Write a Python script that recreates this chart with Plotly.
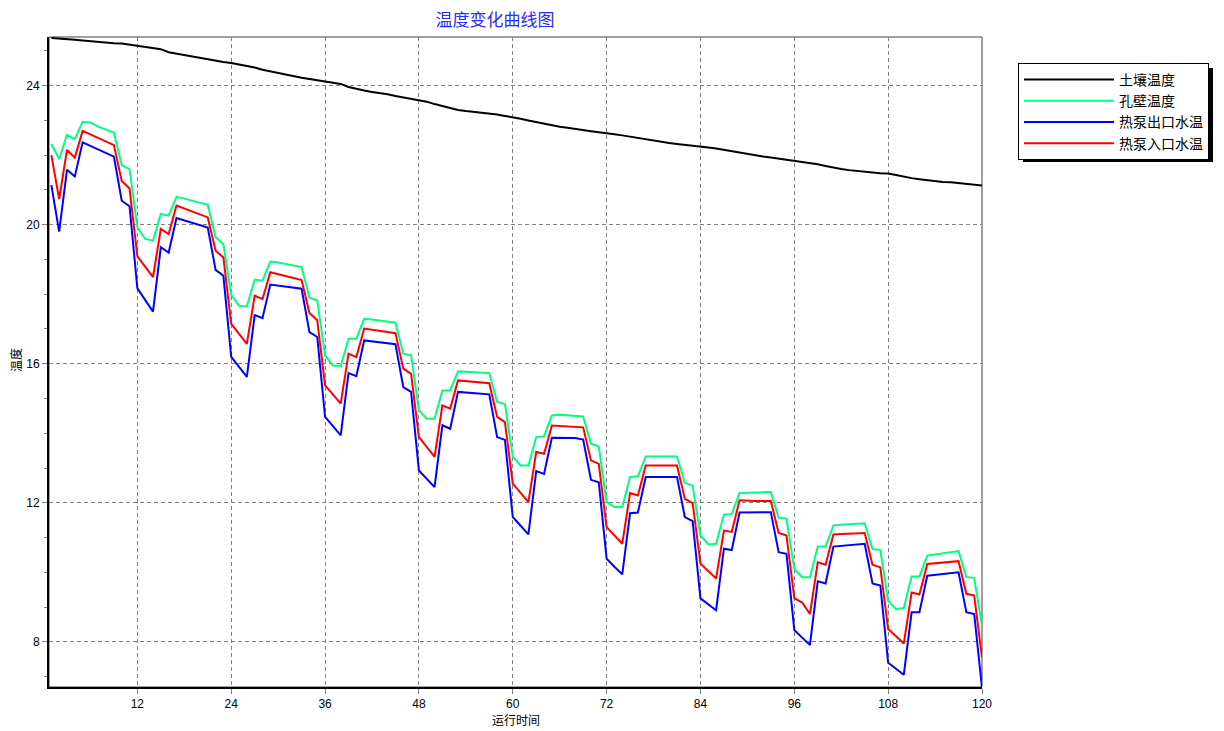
import plotly.graph_objects as go

months = list(range(1, 121))

soil_temp = [
    25.37, 25.36, 25.34, 25.32, 25.30, 25.28, 25.24, 25.23, 25.22, 25.21, 25.18, 25.15,
    25.12, 25.09, 25.05, 24.96, 24.92, 24.86, 24.83, 24.79, 24.75, 24.72, 24.68, 24.65,
    24.61, 24.57, 24.52, 24.46, 24.41, 24.36, 24.31, 24.27, 24.23, 24.19, 24.15, 24.12,
    24.09, 24.05, 23.96, 23.90, 23.86, 23.82, 23.79, 23.75, 23.70, 23.66, 23.63, 23.60,
    23.54, 23.47, 23.41, 23.36, 23.30, 23.27, 23.25, 23.23, 23.21, 23.17, 23.13, 23.10,
    23.05, 23.00, 22.95, 22.91, 22.86, 22.82, 22.79, 22.75, 22.72, 22.69, 22.66, 22.64,
    22.60, 22.57, 22.53, 22.49, 22.46, 22.42, 22.38, 22.35, 22.32, 22.30, 22.28, 22.26,
    22.22, 22.19, 22.15, 22.11, 22.06, 22.02, 21.99, 21.96, 21.93, 21.90, 21.87, 21.85,
    21.81, 21.78, 21.74, 21.69, 21.64, 21.60, 21.57, 21.54, 21.51, 21.50, 21.48, 21.47,
    21.43, 21.38, 21.34, 21.31, 21.28, 21.25, 21.23, 21.22, 21.20, 21.18, 21.15, 21.13,
]

wall_temp = [
    22.32, 21.89, 22.58, 22.46, 22.96, 22.94, 22.82, 22.74, 22.65, 21.71, 21.60, 19.92,
    19.59, 19.54, 20.31, 20.26, 20.80, 20.75, 20.69, 20.63, 20.57, 19.64, 19.44, 17.98,
    17.67, 17.65, 18.42, 18.39, 18.94, 18.91, 18.87, 18.82, 18.78, 17.90, 17.82, 16.24,
    15.95, 15.93, 16.72, 16.72, 17.29, 17.27, 17.24, 17.21, 17.18, 16.29, 16.24, 14.66,
    14.42, 14.42, 15.23, 15.23, 15.78, 15.77, 15.76, 15.75, 15.73, 14.90, 14.84, 13.33,
    13.07, 13.07, 13.89, 13.91, 14.51, 14.53, 14.52, 14.50, 14.48, 13.70, 13.62, 12.02,
    11.88, 11.88, 12.74, 12.76, 13.33, 13.33, 13.33, 13.33, 13.33, 12.57, 12.50, 11.06,
    10.80, 10.82, 11.66, 11.68, 12.28, 12.29, 12.30, 12.30, 12.31, 11.57, 11.54, 10.10,
    9.86, 9.86, 10.74, 10.74, 11.35, 11.37, 11.38, 11.40, 11.41, 10.67, 10.64, 9.18,
    8.94, 8.97, 9.88, 9.88, 10.48, 10.51, 10.55, 10.58, 10.61, 9.86, 9.84, 8.46,
]

outlet_temp = [
    21.14, 19.80, 21.58, 21.39, 22.37, 22.27, 22.17, 22.06, 21.96, 20.69, 20.53, 18.17,
    17.84, 17.50, 19.35, 19.20, 20.19, 20.12, 20.06, 19.99, 19.92, 18.70, 18.53, 16.20,
    15.90, 15.62, 17.40, 17.31, 18.28, 18.25, 18.22, 18.19, 18.16, 16.91, 16.77, 14.47,
    14.20, 13.94, 15.73, 15.64, 16.67, 16.64, 16.62, 16.59, 16.56, 15.33, 15.19, 12.93,
    12.69, 12.45, 14.23, 14.13, 15.19, 15.17, 15.16, 15.14, 15.12, 13.89, 13.81, 11.59,
    11.34, 11.09, 12.91, 12.83, 13.87, 13.87, 13.87, 13.86, 13.82, 12.66, 12.59, 10.39,
    10.16, 9.94, 11.70, 11.72, 12.74, 12.74, 12.74, 12.74, 12.74, 11.59, 11.47, 9.25,
    9.08, 8.91, 10.68, 10.64, 11.72, 11.73, 11.73, 11.73, 11.73, 10.58, 10.53, 8.34,
    8.12, 7.91, 9.74, 9.68, 10.74, 10.76, 10.78, 10.80, 10.82, 9.68, 9.62, 7.40,
    7.22, 7.05, 8.85, 8.85, 9.90, 9.93, 9.95, 9.98, 10.00, 8.85, 8.80, 6.68,
]

inlet_temp = [
    22.00, 20.74, 22.15, 21.93, 22.70, 22.60, 22.50, 22.39, 22.29, 21.26, 21.04, 19.09,
    18.79, 18.49, 19.88, 19.73, 20.55, 20.47, 20.38, 20.30, 20.21, 19.25, 19.06, 17.15,
    16.86, 16.57, 17.96, 17.86, 18.63, 18.58, 18.52, 18.47, 18.41, 17.46, 17.25, 15.38,
    15.11, 14.85, 16.29, 16.19, 17.01, 16.98, 16.94, 16.91, 16.88, 15.86, 15.71, 13.89,
    13.60, 13.32, 14.80, 14.71, 15.52, 15.50, 15.48, 15.46, 15.44, 14.47, 14.32, 12.55,
    12.28, 12.02, 13.46, 13.41, 14.22, 14.21, 14.20, 14.19, 14.17, 13.22, 13.12, 11.30,
    11.06, 10.82, 12.28, 12.21, 13.07, 13.07, 13.07, 13.07, 13.07, 12.11, 11.99, 10.25,
    10.03, 9.82, 11.20, 11.16, 12.07, 12.05, 12.05, 12.05, 12.05, 11.13, 11.06, 9.26,
    9.13, 8.80, 10.29, 10.22, 11.09, 11.10, 11.11, 11.12, 11.13, 10.22, 10.14, 8.37,
    8.16, 7.95, 9.42, 9.36, 10.24, 10.26, 10.28, 10.30, 10.32, 9.38, 9.33, 7.55,
]

series_names = ["土壤温度", "孔壁温度", "热泵出口水温", "热泵入口水温"]
series_colors = ["#000000", "#00ff7f", "#0000ff", "#ff0000"]
series_values = [soil_temp, wall_temp, outlet_temp, inlet_temp]

x_ticks = [12, 24, 36, 48, 60, 72, 84, 96, 108, 120]
y_ticks = [8, 12, 16, 20, 24]

title_text = "温度变化曲线图"
x_title = "运行时间"
y_title = "温度"

fig = go.Figure()
for name, color, vals in zip(series_names, series_colors, series_values):
    fig.add_trace(go.Scatter(
        x=months, y=vals, mode="lines", name=name,
        line=dict(color=color, width=2),
    ))

L, R, T, B = 49, 242, 37, 44
W, H = 1224, 731
pw, ph = W - L - R, H - T - B

def px_x(p):
    return (p - L) / pw

def px_y(p):
    return (H - B - p) / ph

axis_font = dict(family="Liberation Sans, Arial, sans-serif", size=12, color="#000000")
cjk = "Noto Sans CJK SC, sans-serif"

# legend box (approx. rendered extent) for the drop shadow
leg_l, leg_t, leg_r, leg_b = 1018, 63, 1208, 157

fig.update_layout(
    width=W, height=H,
    margin=dict(l=L, r=R, t=T, b=B, pad=0),
    paper_bgcolor="#ffffff",
    plot_bgcolor="#ffffff",
    showlegend=True,
    legend=dict(
        x=px_x(leg_l), y=px_y(leg_t), xanchor="left", yanchor="top",
        bgcolor="#ffffff", bordercolor="#000000", borderwidth=1,
        font=dict(family=cjk, size=14, color="#000000"),
        itemwidth=90, tracegroupgap=0, itemclick=False,
    ),
    title=dict(
        text=title_text, x=495 / W, xref="container", xanchor="center",
        y=1 - 20 / H, yref="container", yanchor="middle",
        font=dict(family=cjk, size=17, color="#2a2aff"),
    ),
    xaxis=dict(
        range=[0.7, 120], tickmode="array", tickvals=x_ticks,
        ticktext=[str(v) for v in x_ticks],
        showgrid=True, gridcolor="#808080", gridwidth=1, griddash="4px,3px",
        zeroline=False, showline=True, linecolor="#000000", linewidth=2,
        ticks="outside", ticklen=5, tickcolor="#808080", tickfont=axis_font,
    ),
    yaxis=dict(
        range=[6.7, 25.4], tickmode="array", tickvals=y_ticks,
        ticktext=[str(v) for v in y_ticks],
        showgrid=True, gridcolor="#808080", gridwidth=1, griddash="4px,3px",
        zeroline=False, showline=True, linecolor="#000000", linewidth=2,
        ticks="outside", ticklen=5, tickcolor="#808080", tickfont=axis_font,
        minor=dict(dtick=1, tick0=0, ticks="outside", ticklen=3, tickcolor="#808080", showgrid=False),
    ),
    shapes=[
        dict(type="rect", xref="paper", yref="paper", x0=0, x1=1, y0=0, y1=1,
             line=dict(color="#404040", width=1), layer="below"),
        dict(type="rect", xref="paper", yref="paper",
             x0=px_x(leg_l + 5), x1=px_x(leg_r + 5), y0=px_y(leg_b + 5), y1=px_y(leg_t + 5),
             fillcolor="#000000", line=dict(width=0), layer="below"),
    ],
    annotations=[
        dict(text=x_title, xref="paper", yref="paper", x=0.5, y=px_y(719),
             xanchor="center", yanchor="middle", showarrow=False,
             font=dict(family=cjk, size=12, color="#000000")),
        dict(text=y_title, xref="paper", yref="paper", x=px_x(15), y=px_y(360),
             xanchor="center", yanchor="middle", showarrow=False, textangle=-90,
             font=dict(family=cjk, size=12, color="#000000")),
    ],
)

fig.write_html(
    "out.html",
    config={"displayModeBar": False},
    post_script="document.body.style.margin='0';document.body.style.padding='0';",
)
